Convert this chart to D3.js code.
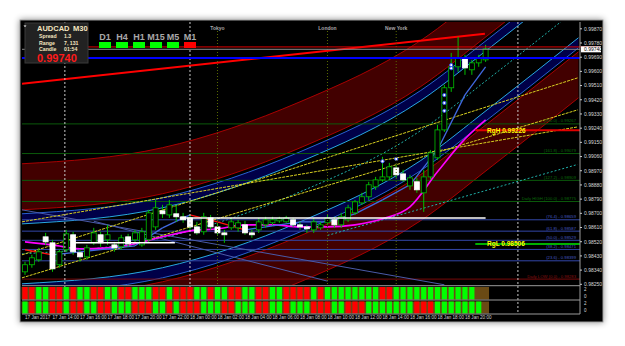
<!DOCTYPE html>
<html lang="en">
<head>
<meta charset="UTF-8">
<title>AUDCAD M30</title>
<style>
  * { margin: 0; box-sizing: border-box; }
  body { width: 625px; height: 346px; background: #fff; overflow: hidden; font-family: "Liberation Sans", Arial, sans-serif; }
  svg { display: block; }
</style>
</head>
<body>
<svg id="chart" width="625" height="346"></svg>
<script src="https://cdn.jsdelivr.net/npm/d3@7/dist/d3.min.js"></script>
<script>
// ---- data (M30 bars, 17 Jan 12:00 .. 18 Jan 21:30) ----
const opens  = [0.98329,0.98374,0.98405,0.98551,0.98513,0.98374,0.98469,0.98564,0.98450,0.98424,0.98513,0.98564,0.98532,0.98500,0.98488,0.98551,0.98532,0.98500,0.98532,0.98614,0.98716,0.98690,0.98697,0.98678,0.98671,0.98614,0.98583,0.98671,0.98614,0.98576,0.98608,0.98608,0.98627,0.98576,0.98595,0.98627,0.98640,0.98652,0.98646,0.98659,0.98627,0.98614,0.98595,0.98608,0.98640,0.98659,0.98627,0.98659,0.98703,0.98766,0.98805,0.98868,0.98912,0.98931,0.98988,0.98950,0.98874,0.98900,0.98830,0.98931,0.99052,0.99229,0.99496,0.99629,0.99686,0.99610,0.99654,0.99673];
const highs  = [0.98393,0.98437,0.98481,0.98576,0.98532,0.98469,0.98595,0.98583,0.98469,0.98500,0.98608,0.98583,0.98627,0.98519,0.98564,0.98570,0.98595,0.98608,0.98722,0.98785,0.98754,0.98785,0.98754,0.98703,0.98690,0.98646,0.98703,0.98690,0.98640,0.98595,0.98671,0.98659,0.98652,0.98595,0.98671,0.98678,0.98678,0.98678,0.98684,0.98671,0.98646,0.98627,0.98671,0.98646,0.98690,0.98678,0.98703,0.98754,0.98785,0.98830,0.98900,0.98931,0.99058,0.99020,0.99007,0.98976,0.98944,0.98925,0.98976,0.99102,0.99261,0.99515,0.99717,0.99819,0.99705,0.99673,0.99705,0.99768];
const lows   = [0.98310,0.98355,0.98393,0.98500,0.98329,0.98355,0.98456,0.98437,0.98393,0.98405,0.98500,0.98488,0.98500,0.98456,0.98469,0.98488,0.98513,0.98488,0.98513,0.98595,0.98671,0.98671,0.98646,0.98640,0.98595,0.98564,0.98564,0.98595,0.98564,0.98513,0.98595,0.98583,0.98564,0.98545,0.98576,0.98608,0.98627,0.98640,0.98640,0.98614,0.98595,0.98576,0.98576,0.98595,0.98627,0.98608,0.98608,0.98646,0.98690,0.98754,0.98785,0.98849,0.98900,0.98912,0.98925,0.98900,0.98849,0.98830,0.98709,0.98912,0.99039,0.99216,0.99470,0.99597,0.99578,0.99578,0.99629,0.99660];
const closes = [0.98374,0.98418,0.98456,0.98519,0.98348,0.98456,0.98570,0.98456,0.98424,0.98481,0.98576,0.98513,0.98564,0.98481,0.98545,0.98507,0.98576,0.98583,0.98703,0.98735,0.98697,0.98754,0.98678,0.98659,0.98614,0.98576,0.98678,0.98614,0.98576,0.98564,0.98646,0.98640,0.98576,0.98564,0.98646,0.98659,0.98659,0.98665,0.98671,0.98627,0.98614,0.98602,0.98646,0.98627,0.98671,0.98627,0.98678,0.98735,0.98773,0.98805,0.98881,0.98912,0.98931,0.98995,0.98944,0.98912,0.98925,0.98849,0.98931,0.99083,0.99229,0.99496,0.99629,0.99686,0.99622,0.99654,0.99686,0.99743];

const timeLabels = ["17 Jan 2017","17 Jan 14:00","17 Jan 16:00","17 Jan 18:00","17 Jan 20:00","17 Jan 22:00","18 Jan 00:00","18 Jan 02:00","18 Jan 04:00","18 Jan 06:00","18 Jan 08:00","18 Jan 10:00","18 Jan 12:00","18 Jan 14:00","18 Jan 16:00","18 Jan 18:00","18 Jan 20:00"];
const priceTicks = [0.98250,0.98340,0.98430,0.98520,0.98610,0.98700,0.98790,0.98880,0.98970,0.99060,0.99150,0.99240,0.99330,0.99420,0.99510,0.99600,0.99690,0.99780,0.99870];

// moving averages, sampled every 4 bars (+ last bar)
const maBars    = [0,4,8,12,16,20,24,28,32,36,40,44,48,52,56,60,64,67];
const maMagenta = [0.98519,0.98500,0.98475,0.98481,0.98507,0.98551,0.98589,0.98602,0.98627,0.98627,0.98614,0.98614,0.98627,0.98665,0.98741,0.98963,0.99172,0.99293];
const maTrend   = [0.98469,0.98437,0.98456,0.98475,0.98494,0.98608,0.98690,0.98646,0.98595,0.98621,0.98646,0.98646,0.98697,0.98785,0.98881,0.99102,0.99451,0.99629];

// polynomial regression channel: middle line + band widths
const chanBars = [-0.5, 20, 40, 57.5, 67.6, 80.5];
const chanMid  = [0.98443, 0.98545, 0.98836, 0.99223, 0.99559, 1.00003];
const chanCyan = 0.0019, chanNavy = 0.00254, chanRedIn = 0.00279, chanRedOut = 0.00571;

// straight trend lines [bar1, price1, bar2, price2]
const yellowLines = [[-0.44,0.98437,80.4,0.99559],[-0.44,0.98291,80.4,0.99356],[-0.44,0.98646,80.4,0.99248]];
const redTrend = [-0.44,0.99521,66.9,0.99838];
const slateLines = [[-0.44,0.98722,61,0.98247],[10,0.98650,44,0.98270]];
const cyanDotted = [[44,0.98560,80.4,0.99010]];

// fractal dots near the breakout
const dotBars   = [52, 54, 61, 61, 61, 62, 62];
const dotPrices = [0.99030, 0.99045, 0.99450, 0.99400, 0.99350, 0.99640, 0.99620];

// fibo levels of the daily range
const fibNames  = ["200.0","161.8","127.2","100.0","76.4","61.8","50.0","38.2","23.6","0.0"];
const fibPrices = [0.99267,0.99079,0.98909,0.98775,0.98659,0.98587,0.98529,0.98471,0.98399,0.98283];

const bidPrice = 0.99740, askLine = 0.99755, blueLevel = 0.99685;
const rgH = 0.99226, rgL = 0.98506;
const whiteLevels = [[6.8,21.8,0.98513],[22.5,67,0.98671]];

const tfNames = ["D1","H4","H1","M15","M5","M1"];
const tfState = ["up","up","up","up","up","down"];
const sessions = [["Tokyo",28],["London",44],["New York",54]];
const daySeps = [5.8, 24, 71.7];

const strip1 = "RRGGRRGRGGRRGGRRGGGRRGRRRGGRGGRRGGRRGGRRRRGRGGGGGGGGRRGGGGGGGGGGGG";
const strip2 = "GRGGRRGRRGGRRGGGRRRGGRGRRRGGGRRGGGRRGGRGGGRRRGGRRRGGGGGGGRRRGGGGGGG";

// ---- layout ----
const svg = d3.select("#chart");
const L = 22, R = 580, T = 22, B = 285;
const x = d3.scaleLinear().domain([0, 67]).range([25, 485.6]);
const y = d3.scaleLinear().domain([0.98250, 0.99870]).range([284.3, 28.8]);

const defs = svg.append("defs");
defs.append("filter").attr("id", "sh").append("feDropShadow")
  .attr("dx", 0).attr("dy", 0).attr("stdDeviation", 3).attr("flood-color", "#000").attr("flood-opacity", 0.45);
defs.append("clipPath").attr("id", "plot").append("rect")
  .attr("x", L).attr("y", T).attr("width", R - L).attr("height", B - T);

svg.append("rect").attr("x", 20).attr("y", 20).attr("width", 583).attr("height", 302)
  .attr("fill", "#000").attr("stroke", "#9a9a9a").attr("filter", "url(#sh)");

const g = svg.append("g").attr("clip-path", "url(#plot)");

// channel
const chan = chanBars.map((b, i) => ({ b, m: chanMid[i] }));
const cv = d3.curveMonotoneX;
const band = (o1, o2, fill) => g.append("path").datum(chan)
  .attr("d", d3.area().curve(cv).x(d => x(d.b)).y0(d => y(d.m + o1)).y1(d => y(d.m + o2)))
  .attr("fill", fill);
band(chanRedIn, chanRedOut, "#420000");
band(-chanRedIn, -chanRedOut, "#420000");
band(chanCyan, chanNavy, "#000048");
band(-chanCyan, -chanNavy, "#000048");
const cline = (o, stroke, dash, w) => g.append("path").datum(chan)
  .attr("d", d3.line().curve(cv).x(d => x(d.b)).y(d => y(d.m + o)))
  .attr("fill", "none").attr("stroke", stroke).attr("stroke-width", w || 1)
  .attr("stroke-dasharray", dash || null);
[chanRedOut, -chanRedOut, chanRedIn, -chanRedIn].forEach(o => cline(o, "#a80000"));
[chanCyan, -chanCyan].forEach(o => cline(o, "#28a8e0"));
cline(chanNavy, "#2860d0"); cline(-chanNavy, "#2860d0");
cline(0, "#20b2aa", "2,2");

// fibo levels
fibPrices.forEach((p, i) => {
  const c = i < 4 ? "#0b5a0b" : (i < 9 ? "#3347a8" : "#7a0a0a");
  g.append("line").attr("x1", L).attr("x2", R).attr("y1", y(p)).attr("y2", y(p)).attr("stroke", c);
});

// vertical separators
daySeps.forEach(b => svg.append("line").attr("x1", x(b)).attr("x2", x(b)).attr("y1", T).attr("y2", 314)
  .attr("stroke", "#c8c8c8").attr("stroke-dasharray", "2,2"));
sessions.forEach(([n, b]) => {
  svg.append("line").attr("x1", x(b)).attr("x2", x(b)).attr("y1", 31).attr("y2", B)
    .attr("stroke", "#5a6a00").attr("stroke-dasharray", "1,2");
  svg.append("text").attr("x", x(b)).attr("y", 30).attr("text-anchor", "middle")
    .attr("fill", "#a8a8a8").attr("font-size", 5).attr("font-weight", "bold").text(n);
});

// straight lines
const seg = (s, stroke, w, dash) => g.append("line")
  .attr("x1", x(s[0])).attr("y1", y(s[1])).attr("x2", x(s[2])).attr("y2", y(s[3]))
  .attr("stroke", stroke).attr("stroke-width", w).attr("stroke-dasharray", dash || null);
slateLines.forEach(s => seg(s, "#4a5aa8", 1));
cyanDotted.forEach(s => seg(s, "#20b2aa", 1, "2,2"));
yellowLines.forEach(s => seg(s, "#d8d020", 1, "3,1"));
seg(redTrend, "#ff0000", 2);

// horizontal levels
const hline = (p, x1, x2, stroke, w) => svg.append("line").attr("x1", x1).attr("x2", x2)
  .attr("y1", y(p)).attr("y2", y(p)).attr("stroke", stroke).attr("stroke-width", w);
hline(blueLevel, L, R, "#0000ff", 2);
hline(bidPrice, L, R, "#8a8a8a", 1);
hline(askLine, 88, 600, "#e00000", 1);
hline(rgH, x(65.5), R, "#e00000", 2);
hline(rgL, x(65.5), R, "#00b000", 2);
whiteLevels.forEach(([b1, b2, p]) => hline(p, x(b1), x(b2), "#ffffff", 1.5));

// moving averages
const magenta = maBars.map((b, i) => [x(b), y(maMagenta[i])]);
g.append("path").attr("d", d3.line().curve(d3.curveMonotoneX)(magenta))
  .attr("fill", "none").attr("stroke", "#ff00ff").attr("stroke-width", 1.6);
const trend = maBars.map((b, i) => [x(b), y(maTrend[i]), maTrend[i]]);
for (let i = 1; i < trend.length; i++) {
  g.append("line").attr("x1", trend[i - 1][0]).attr("y1", trend[i - 1][1])
    .attr("x2", trend[i][0]).attr("y2", trend[i][1])
    .attr("stroke", trend[i][2] >= trend[i - 1][2] ? "#4169e1" : "#ff1010").attr("stroke-width", 1.3);
}

// candles
const bars = opens.map((o, i) => ({ i, o, h: highs[i], l: lows[i], c: closes[i] }));
const cg = g.append("g");
cg.selectAll("line.w").data(bars).join("line")
  .attr("x1", d => x(d.i)).attr("x2", d => x(d.i)).attr("y1", d => y(d.h)).attr("y2", d => y(d.l))
  .attr("stroke", "#00c000");
cg.selectAll("rect").data(bars).join("rect")
  .attr("x", d => x(d.i) - 2.5).attr("width", 5)
  .attr("y", d => y(Math.max(d.o, d.c))).attr("height", d => Math.max(1, Math.abs(y(d.o) - y(d.c))))
  .attr("fill", d => d.c >= d.o ? "#000" : "#fff")
  .attr("stroke", d => d.c >= d.o ? "#00c000" : "#fff").attr("stroke-width", 0.8);
g.selectAll("circle").data(dotBars).join("circle")
  .attr("cx", d => x(d)).attr("cy", (d, i) => y(dotPrices[i])).attr("r", 1.6)
  .attr("fill", "#fff").attr("stroke", "#3050ff").attr("stroke-width", 1);

// right labels on levels
const lab = (t, px, py, c, anchor, size, weight) => svg.append("text").attr("x", px).attr("y", py)
  .attr("fill", c).attr("font-size", size).attr("font-weight", weight || "normal")
  .attr("text-anchor", anchor || "start").text(t);
fibPrices.forEach((p, i) => {
  const c = i < 4 ? "#0a6a0a" : (i < 9 ? "#4458c0" : "#8a1010");
  const pre = i === 3 ? "Daily HIGH " : (i === 9 ? "Daily LOW " : "");
  lab(pre + "(" + fibNames[i] + ") - " + p.toFixed(5), 576, y(p) - 1.5, c, "end", 4.2);
});
lab("RgH  " + rgH.toFixed(5), 487, y(rgH) + 2.5, "#ffff00", "start", 6.5, "bold");
lab("RgL  " + rgL.toFixed(5), 487, y(rgL) + 2.5, "#ffff00", "start", 6.5, "bold");

// price axis
svg.append("line").attr("x1", R).attr("x2", R).attr("y1", T).attr("y2", 314).attr("stroke", "#9a9a9a");
priceTicks.forEach(p => {
  svg.append("line").attr("x1", R).attr("x2", R + 2).attr("y1", y(p)).attr("y2", y(p)).attr("stroke", "#ccc");
  lab(p.toFixed(5), R + 4, y(p) + 1.8, "#d8d8d8", "start", 5);
});
svg.append("rect").attr("x", R + 1).attr("y", y(bidPrice) - 3).attr("width", 20).attr("height", 6).attr("fill", "#fff");
lab(bidPrice.toFixed(5), R + 4, y(bidPrice) + 1.8, "#000", "start", 5);

// indicator strips
const strips = [[strip1, 287, 12.5], [strip2, 301.5, 12]];
strips.forEach(([s, top, h]) => {
  svg.append("rect").attr("x", x(-0.5)).attr("y", top).attr("width", x(67.5) - x(-0.5)).attr("height", h).attr("fill", "#6a4a14");
  svg.selectAll(null).data(s.split("")).join("rect")
    .attr("x", (d, i) => x(i) - 2.6).attr("width", 5.2).attr("y", top).attr("height", h)
    .attr("fill", d => d === "G" ? "#00ff00" : "#ff0000");
});
[285.7, 300, 314].forEach(v => svg.append("line").attr("x1", L).attr("x2", R).attr("y1", v).attr("y2", v).attr("stroke", "#9a9a9a"));
[["2", 290.5], ["0", 298], ["2", 304.5], ["0", 312]].forEach(([t, v]) => lab(t, R + 4, v, "#d8d8d8", "start", 4.5));

// time axis
timeLabels.forEach((t, i) => lab(t, x(i * 4), 319, "#d0d0d0", "start", 4.6));

// info panel
svg.append("rect").attr("x", 25).attr("y", 23).attr("width", 63).attr("height", 40).attr("fill", "#222").attr("stroke", "#3a3a3a");
svg.append("path").attr("d", "M23.5,25.5h3l-1.5,1.6z").attr("fill", "#fff");
lab("AUDCAD", 37, 31, "#f5e6c0", "start", 7.5, "bold");
lab("M30", 73, 31, "#f5e6c0", "start", 7.5, "bold");
[["Spread", "1.3", 38], ["Range", "7, 131", 44.5], ["Candle", "01:54", 50.5]].forEach(([k, v, py]) => {
  lab(k, 39, py, "#f5e6c0", "start", 5.2, "bold");
  lab(v, 64, py, "#f5e6c0", "start", 5.2, "bold");
});
lab(bidPrice.toFixed(5), 37, 62, "#ff1a1a", "start", 11, "bold");

// timeframe boxes
const tfX = [99, 116, 133, 150, 167, 184];
tfNames.forEach((n, i) => {
  lab(n, tfX[i] + 6, 40, "#a8a8a8", "middle", 9, "bold");
  svg.append("rect").attr("x", tfX[i]).attr("y", 42).attr("width", 12).attr("height", 6)
    .attr("fill", tfState[i] === "up" ? "#00ff00" : "#ff0000");
});
</script>
</body>
</html>
